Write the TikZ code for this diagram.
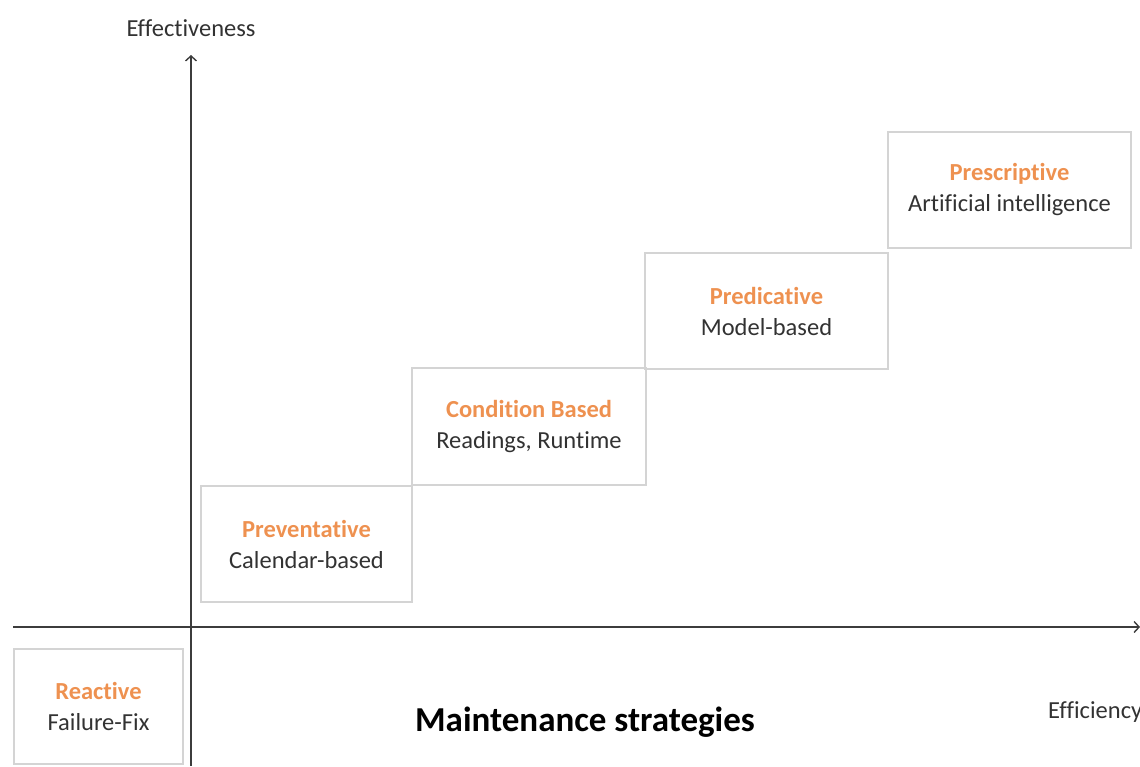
\documentclass[tikz,border=0pt]{standalone}
\usepackage{fontspec}
\setmainfont[Ligatures=NoCommon]{Carlito}
\usetikzlibrary{arrows.meta}
\definecolor{boxgray}{RGB}{212,212,212}
\definecolor{accent}{RGB}{238,145,80}
\definecolor{txt}{RGB}{50,50,50}
\definecolor{axis}{RGB}{60,60,60}
\tikzset{
  box/.style={draw=boxgray, line width=2pt, anchor=north west, align=center,
    text=txt, font=\fontsize{24.5}{31}\selectfont, inner sep=0pt},
  axisline/.style={draw=axis, line width=1.8pt, -{Straight Barb[length=5pt,width=11pt,line width=1.4pt]}},
  lbl/.style={text=txt, font=\fontsize{24.5}{28}\selectfont, inner sep=0pt},
}
\newcommand{\ttl}[1]{{\color{accent}\bfseries #1}}
\begin{document}
\begin{tikzpicture}[x=1pt,y=-1pt]
\useasboundingbox (0,0) rectangle (1140,766);
\node[box, minimum width=169pt, minimum height=115pt] (reactive) at (13,648) {\ttl{Reactive}\\Failure-Fix};
\node[box, minimum width=211pt, minimum height=116pt] (prevent) at (200,485) {\ttl{Preventative}\\Calendar-based};
\node[box, minimum width=234pt, minimum height=117pt] (cond) at (411,367) {\ttl{Condition Based}\\Readings, Runtime};
\node[box, minimum width=243pt, minimum height=116pt] (pred) at (644,252) {\ttl{Predicative}\\Model-based};
\node[box, minimum width=243pt, minimum height=116pt] (presc) at (887,131) {\ttl{Prescriptive}\\Artificial intelligence};
\coordinate (ybot) at (191,766);
\coordinate (ytop) at (191,55);
\coordinate (xleft) at (13,627);
\coordinate (xright) at (1140,627);
\draw[axisline] (ybot) -- (ytop);
\draw[axisline] (xleft) -- (xright);
\node[lbl] (yl) at (191,28) {Effectiveness};
\node[lbl, anchor=west] (xl) at (1048,712) {Efficiency};
\node[text=black, font=\fontsize{35}{40}\selectfont\bfseries] (title) at (585,722) {Maintenance strategies};
\end{tikzpicture}
\end{document}
